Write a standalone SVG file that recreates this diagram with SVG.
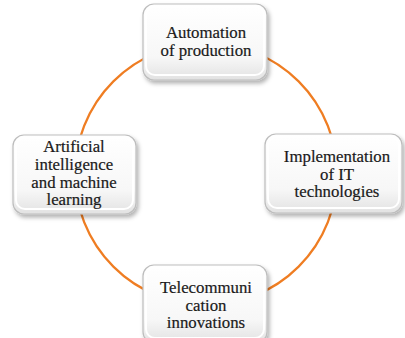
<svg xmlns="http://www.w3.org/2000/svg" width="405" height="338" viewBox="0 0 405 338">
<defs>
<linearGradient id="bevel" x1="0" y1="0" x2="0" y2="1">
<stop offset="0" stop-color="#ffffff"/>
<stop offset="0.7" stop-color="#f7f7f7"/>
<stop offset="1" stop-color="#e2e2e2"/>
</linearGradient>
<filter id="sh" x="-10%" y="-10%" width="125%" height="130%">
<feDropShadow dx="2" dy="3" stdDeviation="2" flood-color="#000" flood-opacity="0.3"/>
</filter>
</defs>
<style>
.box{fill:url(#bevel);stroke:#bdbdbd;stroke-width:1.2;filter:url(#sh)}
.inner{fill:none;stroke:#ffffff;stroke-width:2}
.t{font-family:'Liberation Serif','DejaVu Serif','Times New Roman',serif;font-size:16.8px;fill:#1a1a1a;stroke:#1a1a1a;stroke-width:0.2;text-anchor:middle}
.conn{fill:none;stroke:#ef7d22;stroke-width:2.2}
</style>
<rect width="405" height="338" fill="#ffffff"/>
<g id="connectors">
<circle class="conn" cx="206" cy="174" r="131"/>
</g>
<g id="node-top">
<rect class="box" x="143" y="4" width="124" height="76" rx="11"/>
<rect class="inner" x="146" y="7" width="118" height="68" rx="9"/>
<text class="t" x="206" y="38">Automation</text>
<text class="t" x="206" y="56">of production</text>
</g>
<g id="node-left">
<rect class="box" x="13" y="135" width="123" height="79" rx="11"/>
<rect class="inner" x="16" y="138" width="117" height="71" rx="9"/>
<text class="t" x="74" y="152">Artificial</text>
<text class="t" x="74" y="170">intelligence</text>
<text class="t" x="74" y="187.5">and machine</text>
<text class="t" x="74" y="205">learning</text>
</g>
<g id="node-right">
<rect class="box" x="265" y="134" width="137" height="79" rx="11"/>
<rect class="inner" x="268" y="137" width="131" height="71" rx="9"/>
<text class="t" x="337" y="162">Implementation</text>
<text class="t" x="337" y="179.5">of IT</text>
<text class="t" x="337" y="197">technologies</text>
</g>
<g id="node-bottom">
<rect class="box" x="143" y="265" width="124" height="78" rx="11"/>
<rect class="inner" x="146" y="268" width="118" height="70" rx="9"/>
<text class="t" x="206" y="293">Telecommuni</text>
<text class="t" x="206" y="310.5">cation</text>
<text class="t" x="206" y="328">innovations</text>
</g>
</svg>
